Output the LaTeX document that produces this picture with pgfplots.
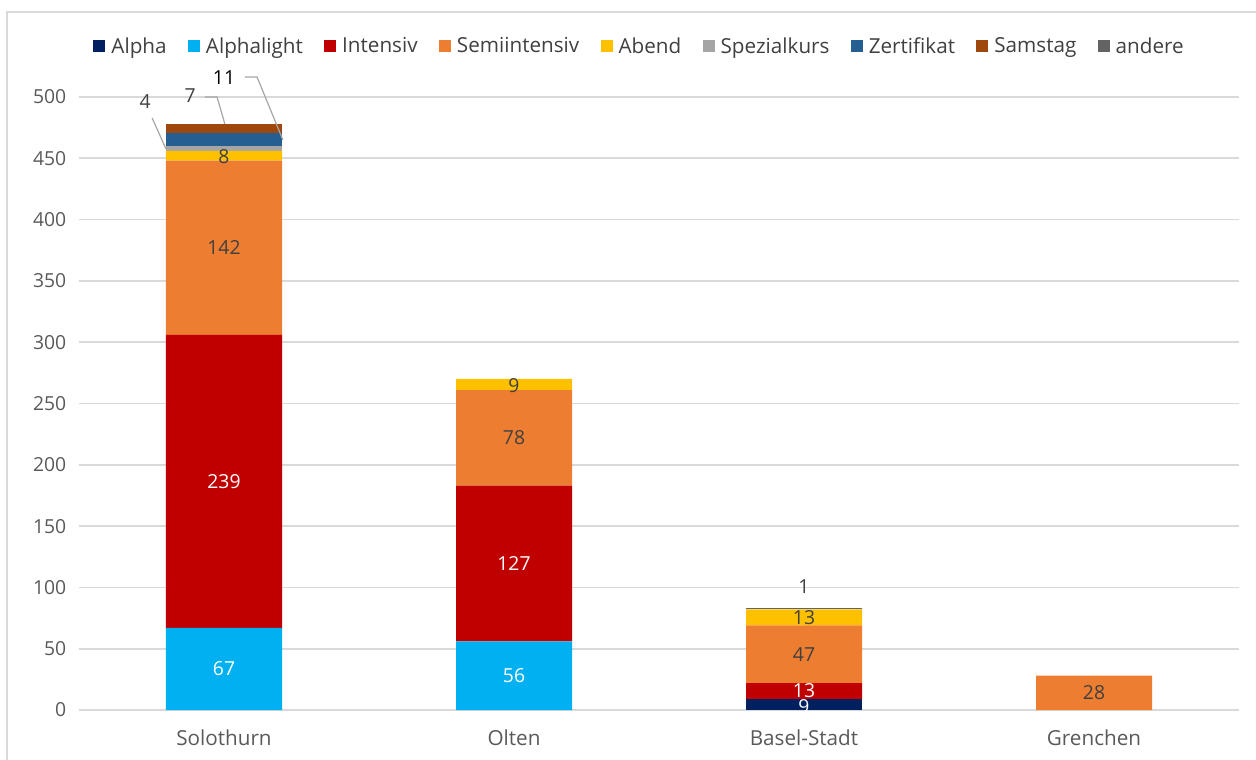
\documentclass[border=0pt]{standalone}
\usepackage{pgfplots}
\pgfplotsset{compat=1.18}
\usepackage{fontspec}
\setmainfont{Open Sans}

\definecolor{cAlpha}{HTML}{002060}
\definecolor{cAlphalight}{HTML}{00B0F0}
\definecolor{cIntensiv}{HTML}{C00000}
\definecolor{cSemi}{HTML}{ED7D31}
\definecolor{cAbend}{HTML}{FFC000}
\definecolor{cSpezial}{HTML}{A5A5A5}
\definecolor{cZert}{HTML}{255E91}
\definecolor{cSamstag}{HTML}{9E480E}
\definecolor{cAndere}{HTML}{636363}
\definecolor{gridgray}{HTML}{D9D9D9}
\definecolor{txt}{HTML}{595959}
\definecolor{lbl}{HTML}{404040}

\newcommand\lf{\fontsize{14.5}{17}\selectfont}
\newcommand\tf{\fontsize{15.5}{18}\selectfont}
\tikzset{lab/.style={font=\lf, inner sep=0pt},
  callout/.style={gray!70, line width=0.9pt}}
\pgfplotsset{frame/.style={scale only axis, width=870pt, height=459.75pt,
  xmin=-0.5, xmax=3.5, ymin=0, ymax=500, clip=false}}

\begin{document}
\begin{tikzpicture}
\useasboundingbox (-59.25pt,-37.5pt) rectangle (882.75pt,532.5pt);
\draw[gridgray, line width=1.5pt] (-54pt,-40pt) -- (-54pt,523.5pt) -- (890pt,523.5pt);
\begin{axis}[
  frame,
  ybar stacked, bar width=87pt,
  font=\lf,
  /pgf/number format/assume math mode=true,
  xtick={0,1,2,3},
  xticklabels={Solothurn,Olten,Basel-Stadt,Grenchen},
  ytick={0,50,...,500},
  major tick length=0pt,
  yticklabel style={text=txt, font=\lf, xshift=-6pt},
  xticklabel style={text=txt, font=\tf, yshift=-11pt},
  ymajorgrids, grid style={gridgray, line width=1.2pt},
  axis lines*=left,
  x axis line style={gridgray, line width=1.2pt},
  y axis line style={draw=none},
  legend image code/.code={\fill[#1] (0pt,-4pt) rectangle (9pt,5pt);},
  legend style={at={(0.4836,1)}, yshift=38pt, anchor=center, draw=none, fill=none,
    legend columns=-1, text=lbl,
    /tikz/every odd column/.append style={column sep=2.5pt},
    /tikz/every even column/.append style={column sep=14pt}},
]
\addplot[fill=cAlpha, draw=none] coordinates {(0,0) (1,0) (2,9) (3,0)};
\addlegendentry{\tf Alpha}
\addplot[fill=cAlphalight, draw=none] coordinates {(0,67) (1,56) (2,0) (3,0)};
\addlegendentry{\tf Alphalight}
\addplot[fill=cIntensiv, draw=none] coordinates {(0,239) (1,127) (2,13) (3,0)};
\addlegendentry{\tf Intensiv}
\addplot[fill=cSemi, draw=none] coordinates {(0,142) (1,78) (2,47) (3,28)};
\addlegendentry{\tf Semiintensiv}
\addplot[fill=cAbend, draw=none] coordinates {(0,8) (1,9) (2,13) (3,0)};
\addlegendentry{\tf Abend}
\addplot[fill=cSpezial, draw=none] coordinates {(0,4) (1,0) (2,0) (3,0)};
\addlegendentry{\tf Spezialkurs}
\addplot[fill=cZert, draw=none] coordinates {(0,11) (1,0) (2,0) (3,0)};
\addlegendentry{\tf Zertifikat}
\addplot[fill=cSamstag, draw=none] coordinates {(0,7) (1,0) (2,0) (3,0)};
\addlegendentry{\tf Samstag}
\addplot[fill=cAndere, draw=none] coordinates {(0,0) (1,0) (2,1) (3,0)};
\addlegendentry{\tf andere}
\end{axis}
% overlay axis for value labels
\begin{axis}[frame, hide axis]
\node[lab, white] at (axis cs:0,33.5) {67};
\node[lab, white] at (axis cs:0,186.5) {239};
\node[lab, lbl] at (axis cs:0,377) {142};
\node[lab, lbl] at (axis cs:0,451.5) {8};
\node[lab, white] at (axis cs:1,28) {56};
\node[lab, white] at (axis cs:1,119.5) {127};
\node[lab, lbl] at (axis cs:1,222) {78};
\node[lab, lbl] at (axis cs:1,265) {9};
\node[lab, white] at (axis cs:2,3) {9};
\node[lab, white] at (axis cs:2,15.5) {13};
\node[lab, lbl] at (axis cs:2,45.5) {47};
\node[lab, lbl] at (axis cs:2,75.5) {13};
\node[lab, lbl] at (axis cs:2,100.5) {1};
\node[lab, lbl] at (axis cs:3,14) {28};
\node[lab, lbl] at (axis cs:-0.272,496) {4};
\node[lab, lbl] at (axis cs:-0.117,501) {7};
\node[lab, black] at (axis cs:0,516) {11};
\draw[callout] (axis cs:-0.248,483) -- (axis cs:-0.2,457.6);
\draw[callout] (axis cs:-0.066,500) -- (axis cs:-0.024,500) -- (axis cs:0.003,478);
\draw[callout] (axis cs:0.072,516.3) -- (axis cs:0.114,516.3) -- (axis cs:0.203,465);
\end{axis}
\end{tikzpicture}
\end{document}
